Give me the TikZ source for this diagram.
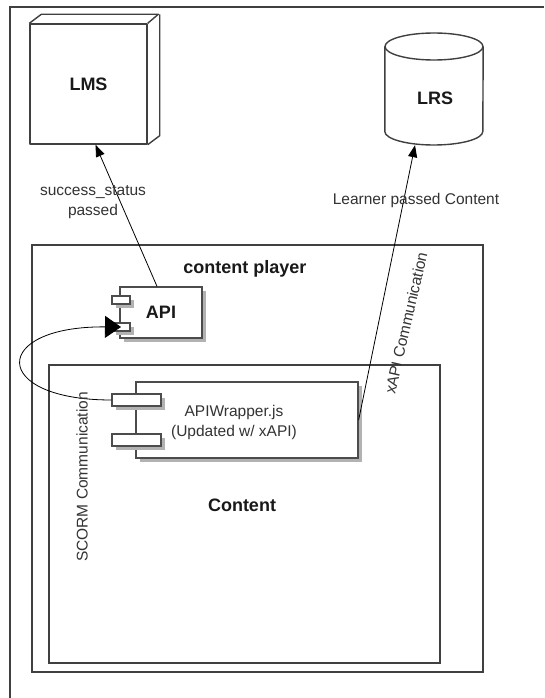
\documentclass[tikz,border=0pt]{standalone}
\usepackage{fontspec}
\setmainfont{Liberation Sans}
\usetikzlibrary{arrows.meta,shadows}
\begin{document}
\begin{tikzpicture}[x=1pt,y=-1pt,
  frame/.style={draw=black!75, line width=1.6pt, inner sep=0},
  solid3d/.style={draw=black!75, line width=1.4pt, line join=round},
  boxlbl/.style={font=\fontsize{18}{21}\selectfont\bfseries, text=black!90},
  lbl/.style={font=\fontsize{15.5}{19.5}\selectfont, text=black!80, align=center, inner sep=0},
  comp/.style={draw=black!70, line width=1.3pt, fill=white, inner sep=0,
    drop shadow={shadow xshift=4pt, shadow yshift=-4pt, fill=black!30, opacity=1}},
  link/.style={draw=black, line width=0.8pt, -{Triangle[length=12pt,width=9pt]}}
]
\useasboundingbox (0,0) rectangle (544,698);
\fill[white] (0,0) rectangle (544,698);
% outer frame (cropped)
\draw[frame] (10,698) -- (10,7) -- (544,7);

% LMS cube
\node[solid3d, draw, minimum width=117pt, minimum height=120pt, inner sep=0, boxlbl] (lms) at (88.5,84) {LMS};
\draw[solid3d] (lms.north west) -- ++(12,-9) -- ++(117,0) -- (lms.north east);
\draw[solid3d] ([shift={(12,-9)}]lms.north east) -- ([shift={(12,-9)}]lms.south east) -- (lms.south east);

% LRS cylinder
\node[minimum width=98pt, minimum height=112pt, inner sep=0] (lrs) at (434,89) {};
\draw[solid3d] (lrs.west |- 0,46.5) -- (lrs.west |- 0,131.5)
  arc[start angle=180, end angle=360, x radius=49pt, y radius=13.5pt] -- (lrs.east |- 0,46.5);
\draw[solid3d] (434,46.5) ellipse [x radius=49pt, y radius=13.5pt];
\node[boxlbl] (lrstext) at (435,98) {LRS};

% content player
\node[frame, draw, minimum width=451pt, minimum height=427pt] (player) at (257.5,458.5) {};
\node[boxlbl] (playertitle) at (245,269) {content player};

% content
\node[frame, draw, minimum width=391pt, minimum height=298pt] (content) at (244.5,514) {};
\node[boxlbl] (contenttitle) at (242,505) {Content};

% API component
\node[comp, minimum width=82pt, minimum height=51pt, boxlbl] (api) at (161,312.5) {API};
\node[comp, minimum width=18pt, minimum height=8pt] (apitab1) at (121,300) {};
\node[comp, minimum width=18pt, minimum height=8pt] (apitab2) at (121,327) {};

% APIWrapper component
\node[comp, minimum width=222pt, minimum height=76pt] (wrap) at (247,420) {};
\node[lbl, font=\fontsize{15.5}{20}\selectfont] (wraptext) at (234,422) {APIWrapper.js\\(Updated w/ xAPI)};
\node[comp, minimum width=49pt, minimum height=12pt] (wtab1) at (136.5,400) {};
\node[comp, minimum width=49pt, minimum height=12pt] (wtab2) at (136.5,440) {};

% connectors
\draw[link] ([xshift=-4pt]api.north) -- ([xshift=7pt]lms.south);
\draw[link] (wrap.east) -- ([xshift=-19pt]lrs.south);
\draw[line width=0.8pt, -{Triangle[length=16pt,width=22pt]}]
  (wtab1.west) .. controls (-10,400) and (-10,326) .. (apitab2.center);

% labels
\node[lbl] (lmslbl) at (93,202) {success\_status\\passed};
\node[lbl] (lrslbl) at (416,200) {Learner passed Content};
\node[lbl, rotate=90] (scormlbl) at (82,477) {SCORM Communication};
\node[lbl, rotate=77] (xapilbl) at (406,323) {xAPI Communication};
\end{tikzpicture}
\end{document}
